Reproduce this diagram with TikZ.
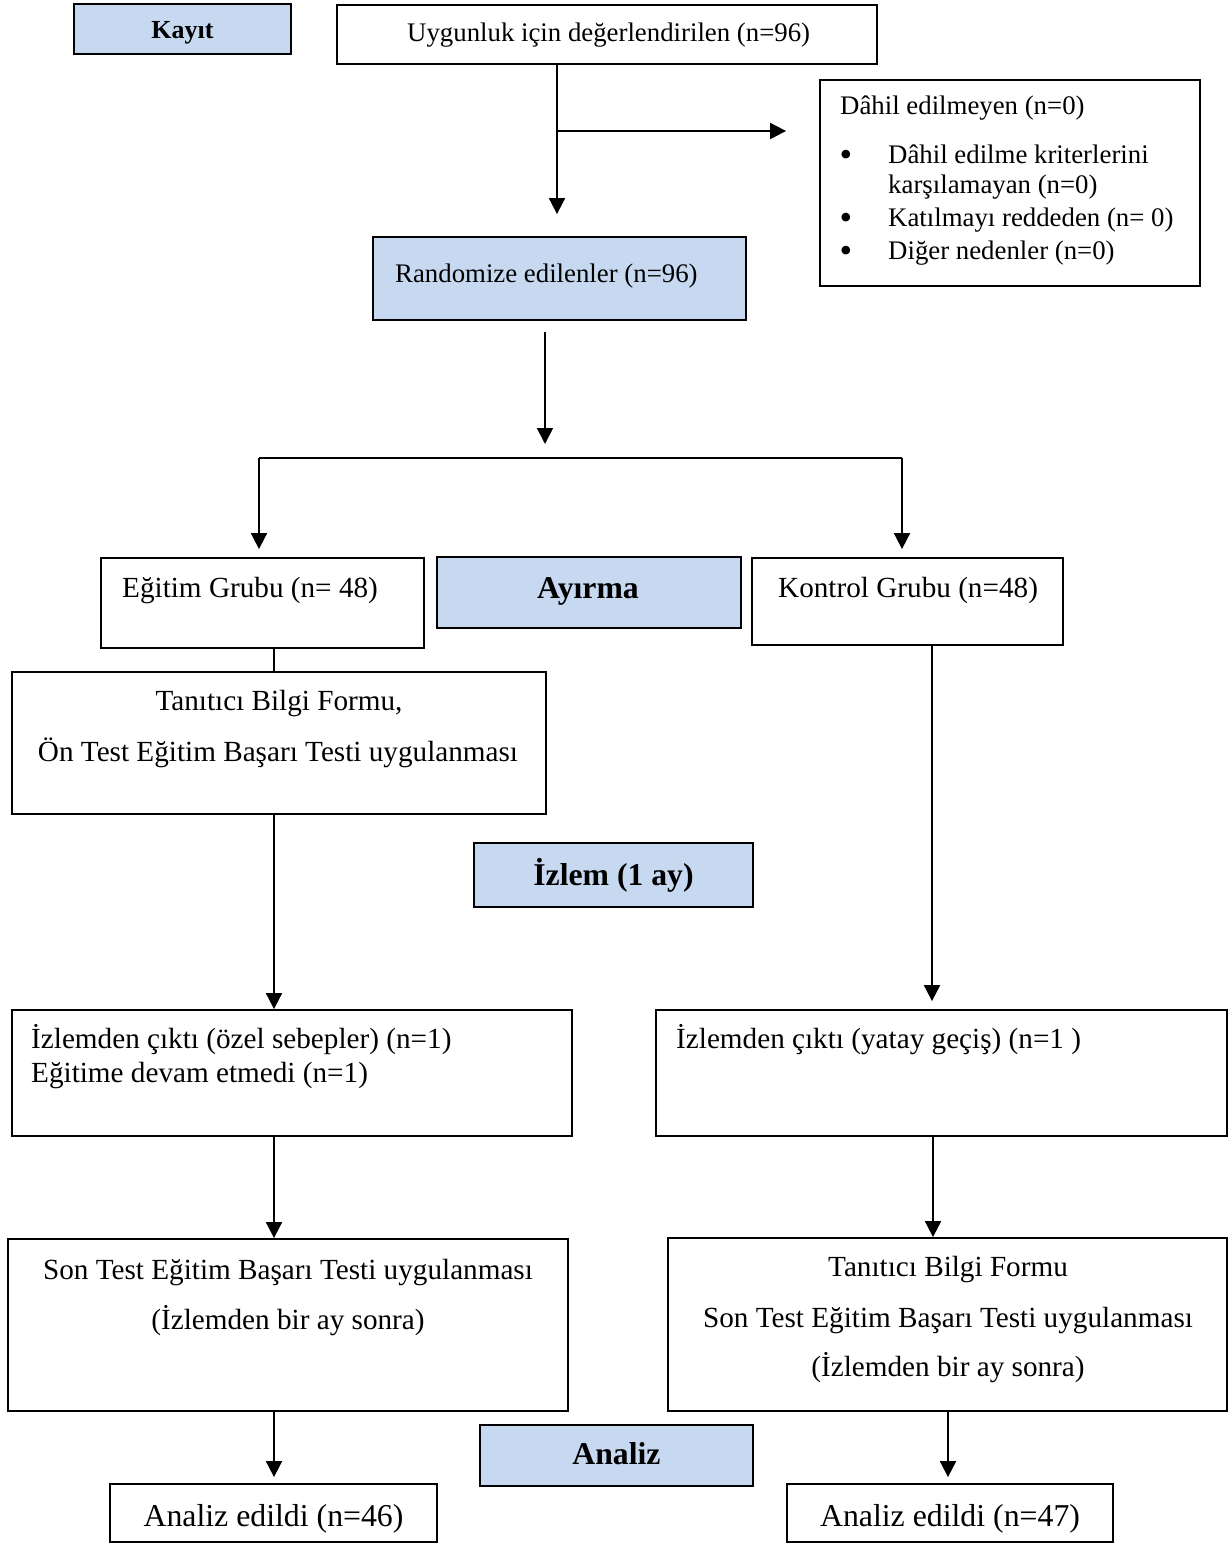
\documentclass[tikz,border=0pt]{standalone}
\usepackage{fontspec}
\setmainfont{Liberation Serif}
\usetikzlibrary{arrows.meta}
\definecolor{boxblue}{HTML}{C6D9F1}
\tikzset{
  box/.style={draw=black, line width=1.8pt, rectangle, inner sep=0pt},
  bluebox/.style={box, fill=boxblue},
  conn/.style={line width=1.8pt},
  arr/.style={conn, -{Triangle[length=16pt,width=16pt]}},
  tA/.style={inner sep=0pt, font=\fontsize{26.8}{32}\selectfont},
  tB/.style={inner sep=0pt, font=\fontsize{29.2}{35}\selectfont},
  tC/.style={inner sep=0pt, font=\fontsize{31.8}{38}\selectfont},
  tK/.style={inner sep=0pt, font=\fontsize{26}{31}\selectfont\bfseries},
  tL/.style={inner sep=0pt, font=\fontsize{31.7}{38}\selectfont\bfseries},
  tBul/.style={inner sep=0pt, font=\fontsize{36}{40}\selectfont},
}
\begin{document}
\begin{tikzpicture}[x=1pt,y=-1pt]
\useasboundingbox (0,0) rectangle (1230,1544);
% boxes
\node[bluebox, minimum width=217pt, minimum height=50pt] (kayit) at (182.5,29) {};
\node[box, minimum width=540pt, minimum height=59pt] (uyg) at (607,34.5) {};
\node[box, minimum width=380pt, minimum height=206pt] (dahil) at (1010,183) {};
\node[bluebox, minimum width=373pt, minimum height=83pt] (rand) at (559.5,278.5) {};
\node[box, minimum width=323pt, minimum height=90pt] (egitim) at (262.5,603) {};
\node[bluebox, minimum width=304pt, minimum height=71pt] (ayirma) at (589,592.5) {};
\node[box, minimum width=311pt, minimum height=87pt] (kontrol) at (907.5,601.5) {};
\node[box, minimum width=534pt, minimum height=142pt] (tan1) at (279,743) {};
\node[bluebox, minimum width=279pt, minimum height=64pt] (izlem) at (613.5,875) {};
\node[box, minimum width=560pt, minimum height=126pt] (izl1) at (292,1073) {};
\node[box, minimum width=571pt, minimum height=126pt] (izl2) at (941.5,1073) {};
\node[box, minimum width=560pt, minimum height=172pt] (son1) at (288,1325) {};
\node[box, minimum width=559pt, minimum height=173pt] (son2) at (947.5,1324.5) {};
\node[bluebox, minimum width=273pt, minimum height=61pt] (analiz) at (616.5,1455.5) {};
\node[box, minimum width=327pt, minimum height=58pt] (an1) at (273.5,1513) {};
\node[box, minimum width=326pt, minimum height=58pt] (an2) at (950,1513) {};
% texts
\node[tK, anchor=base] (tkayit) at (182.5,39) {Kayıt};
\node[tA, anchor=base west] (tuyg) at (407,42) {Uygunluk için değerlendirilen (n=96)};
\node[tA, anchor=base west] (td0) at (840,115) {Dâhil edilmeyen (n=0)};
\node[tBul, anchor=base] (b1) at (846,166) {\textbullet};
\node[tA, anchor=base west] (td1) at (888,163) {Dâhil edilme kriterlerini};
\node[tA, anchor=base west] (td2) at (888,193) {karşılamayan (n=0)};
\node[tBul, anchor=base] (b2) at (846,229) {\textbullet};
\node[tA, anchor=base west] (td3) at (888,226) {Katılmayı reddeden (n= 0)};
\node[tBul, anchor=base] (b3) at (846,262) {\textbullet};
\node[tA, anchor=base west] (td4) at (888,259) {Diğer nedenler (n=0)};
\node[tA, anchor=base west] (trand) at (395,282) {Randomize edilenler (n=96)};
\node[tB, anchor=base west] (tegitim) at (122,597) {Eğitim Grubu (n= 48)};
\node[tL, anchor=base] (tayirma) at (588,598) {Ayırma};
\node[tB, anchor=base west] (tkontrol) at (778,597) {Kontrol Grubu (n=48)};
\node[tB, anchor=base] (ttan1a) at (279,710) {Tanıtıcı Bilgi Formu,};
\node[tB, anchor=base] (ttan1b) at (278,761) {Ön Test Eğitim Başarı Testi uygulanması};
\node[tL, anchor=base] (tizlem) at (613.5,885) {İzlem (1 ay)};
\node[tB, anchor=base west] (tizl1a) at (31,1048) {İzlemden çıktı (özel sebepler) (n=1)};
\node[tB, anchor=base west] (tizl1b) at (31,1082) {Eğitime devam etmedi (n=1)};
\node[tB, anchor=base west] (tizl2) at (676,1048) {İzlemden çıktı (yatay geçiş) (n=1 )};
\node[tB, anchor=base] (tson1a) at (288,1279) {Son Test Eğitim Başarı Testi uygulanması};
\node[tB, anchor=base] (tson1b) at (288,1329) {(İzlemden bir ay sonra)};
\node[tB, anchor=base] (tson2a) at (948,1276) {Tanıtıcı Bilgi Formu};
\node[tB, anchor=base] (tson2b) at (948,1327) {Son Test Eğitim Başarı Testi uygulanması};
\node[tB, anchor=base] (tson2c) at (948,1376) {(İzlemden bir ay sonra)};
\node[tL, anchor=base] (tanaliz) at (616.5,1464) {Analiz};
\node[tC, anchor=base] (tan1t) at (273.5,1526) {Analiz edildi (n=46)};
\node[tC, anchor=base] (tan2t) at (950,1526) {Analiz edildi (n=47)};
% helper coordinates
\coordinate (ux) at (557,0);
\coordinate (br) at (557,131);
\coordinate (sx) at (545,0);
\coordinate (hl) at (259,458);
\coordinate (hr) at (902,458);
\coordinate (lx) at (274,0);
\coordinate (rx1) at (932,0);
\coordinate (rx2) at (933,0);
\coordinate (rx3) at (948,0);
% connectors
\draw[arr, shorten >=22pt] (uyg.south -| ux) -- (rand.north -| ux);
\draw[arr, shorten >=33pt] (br) -- (br -| dahil.west);
\draw[arr, shorten <=11pt, shorten >=14pt] (rand.south -| sx) -- (hl -| sx);
\draw[conn] (hl) -- (hr);
\draw[arr, shorten >=8pt] (hl) -- (hl |- egitim.north);
\draw[arr, shorten >=8pt] (hr) -- (hr |- kontrol.north);
\draw[conn] (egitim.south -| lx) -- (tan1.north -| lx);
\draw[arr] (tan1.south -| lx) -- (izl1.north -| lx);
\draw[arr] (izl1.south -| lx) -- (son1.north -| lx);
\draw[arr, shorten >=6pt] (son1.south -| lx) -- (an1.north -| lx);
\draw[arr, shorten >=8pt] (kontrol.south -| rx1) -- (izl2.north -| rx1);
\draw[arr] (izl2.south -| rx2) -- (son2.north -| rx2);
\draw[arr, shorten >=6pt] (son2.south -| rx3) -- (an2.north -| rx3);
\end{tikzpicture}
\end{document}
